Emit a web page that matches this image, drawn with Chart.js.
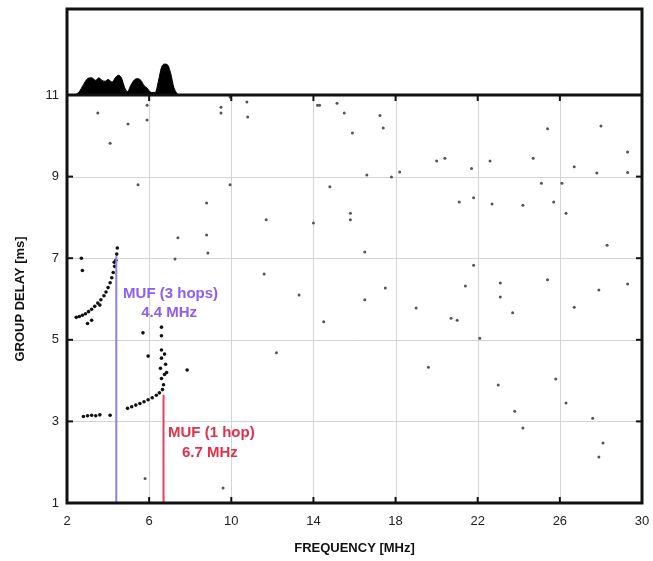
<!DOCTYPE html>
<html>
<head>
<meta charset="utf-8">
<script src="https://cdn.jsdelivr.net/npm/chart.js@4.4.0/dist/chart.umd.min.js"></script>
<style>
  html, body { margin: 0; padding: 0; background: #fff; }
  #wrap { width: 653px; height: 561px; }
</style>
</head>
<body>
<div id="wrap"><canvas id="ionogram"></canvas></div>
<script>
// --- data ---
const xTicks = [2, 6, 10, 14, 18, 22, 26, 30];
const yTicks = [1, 3, 5, 7, 9, 11];

// top panel: signal amplitude vs frequency (arbitrary units, 0-100)
const ampFreq = [2.4, 2.6, 2.8, 3.0, 3.2, 3.4, 3.55, 3.7, 3.85, 4.0, 4.2, 4.35, 4.5, 4.65, 4.8, 4.95, 5.1, 5.3, 5.45, 5.6, 5.75, 5.9, 6.1, 6.3, 6.45, 6.6, 6.75, 6.9, 7.05, 7.2, 7.4];
const ampValue = [0, 4, 12, 19, 20, 17, 20, 17, 16, 18, 15, 20, 23, 20, 9, 4, 11, 18, 19, 17, 11, 8, 3, 3, 16, 32, 36, 35, 25, 9, 0];

// 3-hop trace (MHz, ms)
const trace3Hop = [[2.45, 5.55], [2.6, 5.57], [2.75, 5.6], [2.9, 5.64], [3.05, 5.69], [3.2, 5.75], [3.35, 5.82], [3.5, 5.9], [3.65, 5.98], [3.8, 6.08], [3.9, 6.17], [4.0, 6.28], [4.1, 6.4], [4.18, 6.52], [4.25, 6.65], [4.32, 6.8], [4.38, 6.95], [4.42, 7.1], [4.45, 7.25], [2.7, 7.0], [2.75, 6.7], [3.0, 5.4], [3.2, 5.48], [3.6, 5.85], [4.3, 6.9]];
// 1-hop trace
const trace1Hop = [[2.8, 3.12], [3.0, 3.14], [3.2, 3.15], [3.4, 3.14], [3.6, 3.16], [4.1, 3.15], [4.95, 3.32], [5.15, 3.36], [5.35, 3.4], [5.55, 3.44], [5.75, 3.48], [5.95, 3.53], [6.15, 3.58], [6.35, 3.64], [6.5, 3.7], [6.65, 3.78], [6.7, 3.9], [6.6, 4.05], [6.75, 4.15], [6.55, 4.3], [6.8, 4.4], [6.6, 4.55], [6.75, 4.65], [6.6, 4.75], [6.85, 4.2], [7.85, 4.26], [5.95, 4.6], [5.7, 5.17], [6.6, 5.31], [6.6, 5.1]];

// scattered echoes / noise
const noisePoints = [
  [3.5, 10.56], [4.1, 9.82], [4.97, 10.29], [5.9, 10.39], [5.9, 10.75], [9.5, 10.7], [9.5, 10.56],
  [10.8, 10.46], [10.76, 10.83], [9.94, 10.95], [14.2, 10.75], [5.46, 8.8], [9.94, 8.8],
  [15.15, 10.8], [15.5, 10.56], [15.9, 10.07], [17.24, 10.5], [17.4, 10.19], [20.0, 9.38], [20.4, 9.45],
  [21.7, 9.2], [22.6, 9.38], [24.7, 9.45], [25.4, 10.17], [28.0, 10.24], [29.3, 9.6], [29.3, 9.1],
  [26.7, 9.24], [27.8, 9.09], [18.2, 9.11], [17.8, 8.99], [16.6, 9.04], [25.1, 8.84], [26.1, 8.84],
  [14.8, 8.75], [14.3, 10.75], [8.8, 8.35], [7.4, 7.5], [8.8, 7.57], [8.86, 7.13], [7.26, 6.98],
  [11.7, 7.94], [14.0, 7.86], [11.6, 6.61], [13.3, 6.1], [14.5, 5.44], [12.2, 4.68],
  [15.8, 8.1], [15.8, 7.94], [16.5, 7.15], [17.5, 6.27], [16.5, 5.98], [19.0, 5.78], [20.7, 5.53],
  [21.0, 5.48], [21.8, 8.48], [21.1, 8.38], [22.7, 8.33], [24.2, 8.3], [25.7, 8.38], [26.3, 8.1],
  [28.3, 7.32], [21.8, 6.83], [21.4, 6.32], [23.1, 6.39], [23.1, 6.05], [23.7, 5.66], [25.4, 6.47],
  [26.7, 5.8], [27.9, 6.22], [29.3, 6.37], [22.1, 5.04], [19.6, 4.33], [23.0, 3.89], [25.8, 4.04],
  [26.3, 3.45], [23.8, 3.25], [27.6, 3.08], [24.2, 2.84], [28.1, 2.47], [27.9, 2.13],
  [5.8, 1.6], [9.6, 1.37]
];

// maximum usable frequencies
const muf3Hop = 4.4;
const muf1Hop = 6.7;
const mufLabels = ['MUF (3 hops)', '4.4 MHz', 'MUF (1 hop)', '6.7 MHz'];

const FONT = 'Liberation Sans, Arial, sans-serif';
const toXY = arr => arr.map(p => ({ x: p[0], y: p[1] }));

// grid, frame, inward ticks and MUF labels
const framePlugin = {
  id: 'frame',
  beforeDatasetsDraw(chart) {
    const { ctx, scales: { x, y } } = chart;
    ctx.save();
    ctx.strokeStyle = '#d4d4d4';
    ctx.lineWidth = 1;
    xTicks.slice(1, -1).forEach(v => {
      const px = Math.round(x.getPixelForValue(v)) + 0.5;
      ctx.beginPath(); ctx.moveTo(px, y.top); ctx.lineTo(px, y.bottom); ctx.stroke();
    });
    yTicks.slice(1, -1).forEach(v => {
      const py = Math.round(y.getPixelForValue(v)) + 0.5;
      ctx.beginPath(); ctx.moveTo(x.left, py); ctx.lineTo(x.right, py); ctx.stroke();
    });
    ctx.restore();
  },
  afterDatasetsDraw(chart) {
    const { ctx, chartArea: a, scales: { x, y } } = chart;
    ctx.save();
    ctx.strokeStyle = '#111';
    ctx.lineWidth = 3;
    ctx.strokeRect(a.left, a.top, a.right - a.left, a.bottom - a.top);
    ctx.beginPath(); ctx.moveTo(a.left, y.top); ctx.lineTo(a.right, y.top); ctx.stroke();
    ctx.lineWidth = 2;
    xTicks.slice(1, -1).forEach(v => {
      const px = x.getPixelForValue(v);
      ctx.beginPath(); ctx.moveTo(px, y.bottom); ctx.lineTo(px, y.bottom - 6); ctx.stroke();
      ctx.beginPath(); ctx.moveTo(px, y.top); ctx.lineTo(px, y.top + 6); ctx.stroke();
    });
    yTicks.slice(1, -1).forEach(v => {
      const py = y.getPixelForValue(v);
      ctx.beginPath(); ctx.moveTo(a.left, py); ctx.lineTo(a.left + 6, py); ctx.stroke();
      ctx.beginPath(); ctx.moveTo(a.right, py); ctx.lineTo(a.right - 6, py); ctx.stroke();
    });
    ctx.font = 'bold 15px ' + FONT;
    ctx.textBaseline = 'middle';
    ctx.fillStyle = '#8d5ef2';
    ctx.textAlign = 'left';
    ctx.fillText(mufLabels[0], x.getPixelForValue(4.73), y.getPixelForValue(6.12));
    ctx.textAlign = 'center';
    ctx.fillText(mufLabels[1], x.getPixelForValue(6.97), y.getPixelForValue(5.66));
    ctx.fillStyle = '#e2304c';
    ctx.textAlign = 'left';
    ctx.fillText(mufLabels[2], x.getPixelForValue(6.92), y.getPixelForValue(2.72));
    ctx.textAlign = 'center';
    ctx.fillText(mufLabels[3], x.getPixelForValue(8.96), y.getPixelForValue(2.23));
    ctx.restore();
  }
};

new Chart(document.getElementById('ionogram'), {
  type: 'scatter',
  data: {
    datasets: [
      {
        type: 'line', yAxisID: 'yTop',
        data: ampFreq.map((f, i) => ({ x: f, y: ampValue[i] })),
        borderColor: '#000', backgroundColor: '#000', borderWidth: 1,
        fill: 'origin', pointRadius: 0, cubicInterpolationMode: 'monotone'
      },
      {
        type: 'line', yAxisID: 'y',
        data: [{ x: muf3Hop, y: 1 }, { x: muf3Hop, y: 7.05 }],
        borderColor: '#8c7ef0', borderWidth: 2, pointRadius: 0
      },
      {
        type: 'line', yAxisID: 'y',
        data: [{ x: muf1Hop, y: 1 }, { x: muf1Hop, y: 3.65 }],
        borderColor: '#e8405a', borderWidth: 2, pointRadius: 0
      },
      { yAxisID: 'y', data: toXY(noisePoints), pointRadius: 1.5, pointBackgroundColor: '#555', pointBorderWidth: 0 },
      { yAxisID: 'y', data: toXY(trace3Hop), pointRadius: 1.8, pointBackgroundColor: '#111', pointBorderWidth: 0 },
      { yAxisID: 'y', data: toXY(trace1Hop), pointRadius: 1.8, pointBackgroundColor: '#111', pointBorderWidth: 0 }
    ]
  },
  options: {
    responsive: true,
    maintainAspectRatio: false,
    animation: false,
    layout: { padding: { top: 9, right: 11, left: 0, bottom: 0 } },
    plugins: { legend: { display: false }, tooltip: { enabled: false } },
    scales: {
      x: {
        type: 'linear', min: 2, max: 30, position: 'bottom',
        afterBuildTicks: s => { s.ticks = xTicks.map(v => ({ value: v })); },
        ticks: { color: '#222', font: { family: FONT, size: 13 }, padding: 0 },
        grid: { display: false, drawTicks: true, tickLength: 11 }, border: { display: false },
        title: { display: true, text: 'FREQUENCY [MHz]', color: '#111', font: { family: FONT, size: 13, weight: 'bold' }, padding: { top: 0, bottom: 5 } },
        afterFit: s => { s.height = 58; }
      },
      y: {
        type: 'linear', min: 1, max: 11, position: 'left', stack: 'panels', stackWeight: 408,
        afterBuildTicks: s => { s.ticks = yTicks.map(v => ({ value: v })); },
        ticks: { color: '#222', font: { family: FONT, size: 13 }, padding: 0 },
        grid: { display: false, drawTicks: true, tickLength: 8 }, border: { display: false },
        title: { display: true, text: 'GROUP DELAY [ms]', color: '#111', font: { family: FONT, size: 13, weight: 'bold' }, padding: { top: 13, bottom: 0 } },
        afterFit: s => { s.width = 67; }
      },
      yTop: {
        type: 'linear', min: 0, max: 100, position: 'left', stack: 'panels', stackWeight: 86,
        ticks: { display: false }, grid: { display: false, drawTicks: false }, border: { display: false },
        afterFit: s => { s.width = 67; }
      }
    }
  },
  plugins: [framePlugin]
});
</script>
</body>
</html>
